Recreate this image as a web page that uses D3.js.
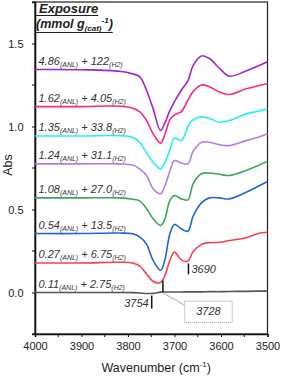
<!DOCTYPE html>
<html>
<head>
<meta charset="utf-8">
<script src="https://cdn.jsdelivr.net/npm/d3@7"></script>
<style>
  body { margin: 0; background: #fff; }
  svg { display: block; font-family: "Liberation Sans", Arial, sans-serif; }
  .axis text { font-size: 11px; fill: #222; }
  .axis path, .axis line { stroke: #111; }
  .lbl { font-size: 11px; font-style: italic; fill: #333; }
</style>
</head>
<body>
<div id="chart"></div>
<script>
// wavenumber grid (cm-1) shared by every spectrum
const wavenumbers = [4000, 3900, 3818, 3790, 3775, 3760, 3746, 3730, 3721, 3710, 3700,
  3685, 3671, 3660, 3642, 3625, 3603, 3582, 3546, 3520, 3500]

const gray = [0, 0, 0, -0.001, -0.003, -0.006, -0.005, 0.002, 0.003, 0.003, 0.003,
  0.003, 0.004, 0.004, 0.004, 0.005, 0.005, 0.006, 0.007, 0.008, 0.008]
const red = [0.178, 0.178, 0.182, 0.178, 0.16, 0.112, 0.066, 0.06, 0.1, 0.193, 0.243,
  0.195, 0.19, 0.245, 0.29, 0.3, 0.303, 0.313, 0.33, 0.355, 0.363]
const blue = [0.355, 0.355, 0.358, 0.354, 0.335, 0.29, 0.193, 0.133, 0.193, 0.353, 0.41,
  0.383, 0.369, 0.46, 0.54, 0.57, 0.57, 0.564, 0.604, 0.64, 0.669]
const green = [0.57, 0.57, 0.57, 0.562, 0.552, 0.504, 0.444, 0.404, 0.44, 0.554, 0.584,
  0.564, 0.558, 0.655, 0.715, 0.72, 0.712, 0.705, 0.735, 0.765, 0.79]
const lavender = [0.775, 0.775, 0.775, 0.768, 0.745, 0.705, 0.625, 0.595, 0.64, 0.73, 0.795,
  0.78, 0.775, 0.85, 0.905, 0.905, 0.89, 0.885, 0.915, 0.935, 0.956]
const cyan = [0.943, 0.943, 0.945, 0.935, 0.905, 0.84, 0.785, 0.745, 0.78, 0.86, 0.93,
  0.916, 1.0, 1.04, 1.058, 1.048, 1.026, 1.036, 1.076, 1.092, 1.107]
const pink = [1.12, 1.12, 1.122, 1.11, 1.09, 1.036, 0.956, 0.9, 0.95, 1.04, 1.07,
  1.09, 1.16, 1.21, 1.25, 1.24, 1.207, 1.193, 1.227, 1.245, 1.257]
const purple = [1.343, 1.342, 1.333, 1.317, 1.3, 1.217, 1.107, 0.975, 1.02, 1.096, 1.15,
  1.22, 1.277, 1.367, 1.425, 1.41, 1.35, 1.303, 1.335, 1.365, 1.39]

// exposure labels: [ANL, H2]
const anl = ['0.11', '0.27', '0.54', '1.08', '1.24', '1.35', '1.62', '4.86']
const h2 = ['2.75', '6.75', '13.5', '27.0', '31.1', '33.8', '4.05', '122']
const colors = ['#555555', '#f2404c', '#1f65e0', '#3aa75f', '#b07de4', '#1ff0f0', '#fc2a7f', '#9c25d4']
const spectra = [gray, red, blue, green, lavender, cyan, pink, purple]

const xTicks = [4000, 3900, 3800, 3700, 3600, 3500]
const yTicks = [0, 0.5, 1.0, 1.5]

// peak markers: label, wavenumber where the mark is drawn
const peaks = [
  { label: '3690', at: 3670 },
  { label: '3754', at: 3749 },
  { label: '3728', at: 3725 },
]

const W = 283, H = 378
const margin = { top: 2, right: 15.5, bottom: 44, left: 35 }

const svg = d3.select('#chart').append('svg')
  .attr('width', W).attr('height', H)

const x = d3.scaleLinear().domain([4000, 3500]).range([margin.left, W - margin.right])
const y = d3.scaleLinear().domain([-0.25, 1.75]).range([H - margin.bottom, margin.top])

// frame
svg.append('rect')
  .attr('x', x(4000)).attr('y', y(1.75))
  .attr('width', x(3500) - x(4000)).attr('height', y(-0.25) - y(1.75))
  .attr('fill', 'none').attr('stroke', '#222').attr('stroke-width', 1.2)

// minor ticks
svg.append('g')
  .selectAll('line')
  .data(d3.range(3950, 3500, -100))
  .join('line')
  .attr('x1', d => x(d)).attr('x2', d => x(d))
  .attr('y1', y(-0.25)).attr('y2', y(-0.25) + 3)
  .attr('stroke', '#111')
svg.append('g')
  .selectAll('line')
  .data([-0.25, 0.25, 0.75, 1.25, 1.75])
  .join('line')
  .attr('x1', x(4000) - 3).attr('x2', x(4000))
  .attr('y1', d => y(d)).attr('y2', d => y(d))
  .attr('stroke', '#111')

// axes
const xAxis = svg.append('g')
  .attr('class', 'axis')
  .attr('transform', `translate(0,${y(-0.25)})`)
  .call(d3.axisBottom(x).tickValues(xTicks).tickFormat(d3.format('d')).tickSizeOuter(0).tickSize(3).tickPadding(5))
xAxis.select('.domain').attr('stroke-width', 1.6)

const yAxis = svg.append('g')
  .attr('class', 'axis')
  .attr('transform', `translate(${x(4000)},0)`)
  .call(d3.axisLeft(y).tickValues(yTicks).tickFormat(d3.format('.1f')).tickSizeOuter(0).tickSize(3).tickPadding(8.5))
yAxis.select('.domain').attr('stroke-width', 1.6)

// axis names
const xName = svg.append('text')
  .attr('x', (x(4000) + x(3500)) / 2 + 5).attr('y', 372)
  .attr('text-anchor', 'middle')
  .style('font-size', '12.5px').attr('fill', '#222')
xName.append('tspan').text('Wavenumber (cm')
xName.append('tspan').attr('dy', -5).style('font-size', '8px').text('-1')
xName.append('tspan').attr('dy', 5).text(')')

svg.append('text')
  .attr('transform', `translate(11.5,${(y(-0.25) + y(1.75)) / 2 - 3}) rotate(-90)`)
  .attr('text-anchor', 'middle')
  .style('font-size', '12.5px').attr('fill', '#222')
  .text('Abs')

// SPECTRA
const line = d3.line()
  .x((d, i) => x(wavenumbers[i]))
  .y(d => y(d))
  .curve(d3.curveCatmullRom.alpha(0.5))

svg.append('g')
  .selectAll('path')
  .data(spectra)
  .join('path')
  .attr('d', line)
  .attr('fill', 'none')
  .attr('stroke', (d, i) => colors[i])
  .attr('stroke-width', 1.6)

// series labels
spectra.forEach((s, i) => {
  const t = svg.append('text').attr('class', 'lbl')
    .attr('x', x(4000) + 3.5).attr('y', y(s[0]) - 5)
  t.append('tspan').text(anl[i])
  t.append('tspan').attr('dy', 2.5).style('font-size', '7px').text('(ANL)')
  t.append('tspan').attr('dy', -2.5).text(' + ' + h2[i])
  t.append('tspan').attr('dy', 2.5).style('font-size', '7px').text('(H2)')
})

// title
const title1 = svg.append('text')
  .attr('x', x(4000) + 4).attr('y', 13)
  .style('font-size', '13px').style('font-weight', 'bold').style('font-style', 'italic')
  .attr('fill', '#222')
  .text('Exposure')
const title2 = svg.append('text')
  .attr('x', x(4000) + 1).attr('y', 28)
  .style('font-size', '12.5px').style('font-weight', 'bold').style('font-style', 'italic')
  .attr('fill', '#222')
title2.append('tspan').text('(mmol g')
title2.append('tspan').attr('dy', 3).style('font-size', '8px').text('(cat)')
title2.append('tspan').attr('dy', -8).style('font-size', '8px').text('-1')
title2.append('tspan').attr('dy', 5).text(')')
;[title1, title2].forEach((t, i) => {
  const bb = t.node().getBBox()
  svg.append('line')
    .attr('x1', i === 0 ? bb.x - 3 : bb.x).attr('x2', bb.x + bb.width)
    .attr('y1', i === 0 ? 15.5 : 32.5).attr('y2', i === 0 ? 15.5 : 32.5)
    .attr('stroke', '#222').attr('stroke-width', 1)
})

// PEAK MARKERS
const p0 = peaks[0], p1 = peaks[1], p2 = peaks[2]

// 3690 on the red spectrum
svg.append('line')
  .attr('x1', x(p0.at)).attr('x2', x(p0.at))
  .attr('y1', y(0.175)).attr('y2', y(0.11))
  .attr('stroke', '#111').attr('stroke-width', 1.5)
svg.append('text').attr('class', 'lbl')
  .attr('x', x(p0.at) + 3).attr('y', y(0.12))
  .text(p0.label)

// 3754 below the baseline
svg.append('line')
  .attr('x1', x(p1.at)).attr('x2', x(p1.at))
  .attr('y1', y(-0.018)).attr('y2', y(-0.097))
  .attr('stroke', '#111').attr('stroke-width', 1.5)
svg.append('text').attr('class', 'lbl')
  .attr('x', x(p1.at) - 3).attr('y', y(-0.085))
  .attr('text-anchor', 'end')
  .text(p1.label)

// 3728 from red minimum down to baseline, with boxed callout
svg.append('line')
  .attr('x1', x(p2.at)).attr('x2', x(p2.at))
  .attr('y1', y(0.072)).attr('y2', y(0))
  .attr('stroke', '#111').attr('stroke-width', 1.5)
const bx = x(3678), bw = x(3576) - x(3678)
svg.append('line')
  .attr('x1', x(p2.at)).attr('y1', y(-0.002))
  .attr('x2', bx).attr('y2', y(-0.077))
  .attr('stroke', '#aaa').attr('stroke-width', 1)
svg.append('rect')
  .attr('x', bx).attr('y', y(-0.052))
  .attr('width', bw).attr('height', y(-0.18) - y(-0.052))
  .attr('fill', '#fff').attr('stroke', '#999').attr('stroke-width', 1)
  .attr('stroke-dasharray', '1,1')
svg.append('text').attr('class', 'lbl')
  .attr('x', bx + bw / 2).attr('y', y(-0.137))
  .attr('text-anchor', 'middle')
  .text(p2.label)
</script>
</body>
</html>
